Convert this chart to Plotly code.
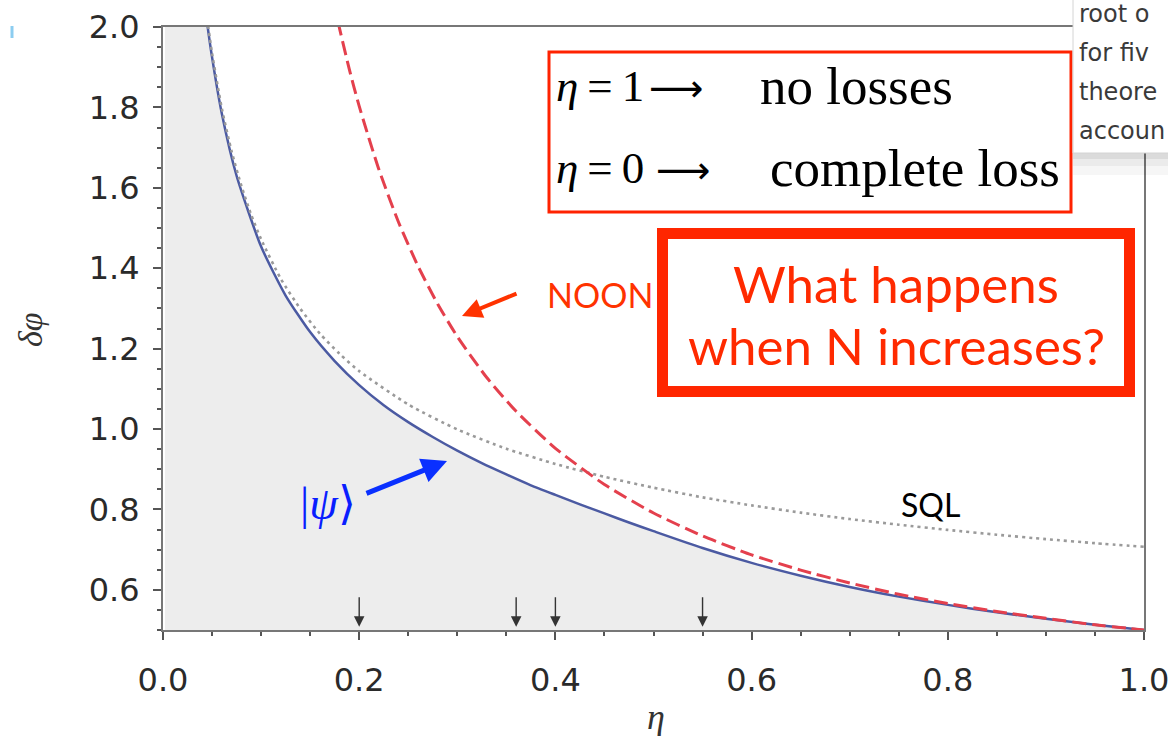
import plotly.graph_objects as go

# ---------------- data ----------------
eta_psi = [0.002, 0.01, 0.02, 0.03, 0.04, 0.045, 0.05, 0.06, 0.075, 0.1, 0.125, 0.15,
           0.175, 0.2, 0.225, 0.25, 0.275, 0.3, 0.325, 0.35, 0.375, 0.4, 0.425, 0.45,
           0.475, 0.5, 0.55, 0.6, 0.65, 0.7, 0.75, 0.8, 0.85, 0.9, 0.95, 1.0]
dphi_psi = [8.2, 3.87, 2.845, 2.39, 2.11, 2.01, 1.925, 1.784, 1.630, 1.454, 1.332, 1.241,
            1.169, 1.109, 1.059, 1.017, 0.980, 0.946, 0.915, 0.887, 0.860, 0.836, 0.8125, 0.790,
            0.7675, 0.746, 0.704, 0.667, 0.635, 0.607, 0.583, 0.5625, 0.544, 0.528, 0.513, 0.500]

eta_noon = [0.17, 0.18, 0.19, 0.2, 0.22, 0.24, 0.26, 0.28, 0.3, 0.33, 0.36, 0.4, 0.45,
            0.5, 0.55, 0.6, 0.65, 0.7, 0.75, 0.8, 0.85, 0.9, 0.95, 1.0]
dphi_noon = [2.110, 1.996, 1.894, 1.803, 1.646, 1.515, 1.405, 1.311, 1.230, 1.128, 1.044, 0.952, 0.862,
             0.791, 0.734, 0.687, 0.649, 0.617, 0.589, 0.566, 0.546, 0.529, 0.513, 0.500]

eta_sql = [0.045, 0.05, 0.06, 0.07, 0.08, 0.09, 0.1, 0.12, 0.14, 0.16, 0.18, 0.2, 0.25, 0.3,
           0.35, 0.4, 0.45, 0.5, 0.55, 0.6, 0.65, 0.7, 0.75, 0.8, 0.85, 0.9, 0.95, 1.0]
dphi_sql = [2.020, 1.935, 1.797, 1.690, 1.604, 1.532, 1.472, 1.374, 1.299, 1.237, 1.187, 1.144, 1.061, 0.999,
            0.951, 0.913, 0.881, 0.854, 0.830, 0.810, 0.792, 0.776, 0.762, 0.749, 0.737, 0.726, 0.716, 0.707]

eta_marks = [0.2, 0.36, 0.4, 0.55]

x_ticks = [0.0, 0.2, 0.4, 0.6, 0.8, 1.0]
y_ticks = [0.6, 0.8, 1.0, 1.2, 1.4, 1.6, 1.8, 2.0]
x_ticktext = ["0.0", "0.2", "0.4", "0.6", "0.8", "1.0"]
y_ticktext = ["0.6", "0.8", "1.0", "1.2", "1.4", "1.6", "1.8", "2.0"]

# ---------------- geometry helpers (pixel -> paper) ----------------
W, H = 1168, 736
L, R, T, B = 163, 1144, 27, 630


def px(x):
    return (x - L) / (R - L)


def py(y):
    return (B - y) / (B - T)


fig = go.Figure()

# grey region under the optimal-state curve
fig.add_trace(go.Scatter(x=eta_psi, y=dphi_psi, mode="lines",
                         line=dict(width=0, shape="spline", smoothing=0.6),
                         fill="tozeroy", fillcolor="#ededed",
                         hoverinfo="skip", showlegend=False))
# optimal state |psi>
fig.add_trace(go.Scatter(x=eta_psi, y=dphi_psi, mode="lines",
                         line=dict(color="#4b5aa2", width=2.5, shape="spline", smoothing=0.6),
                         showlegend=False))
# SQL
fig.add_trace(go.Scatter(x=eta_sql, y=dphi_sql, mode="lines",
                         line=dict(color="#9a9a9a", width=2.6, dash="3px,4px", shape="spline", smoothing=0.6),
                         showlegend=False))
# NOON
fig.add_trace(go.Scatter(x=eta_noon, y=dphi_noon, mode="lines",
                         line=dict(color="#e4404d", width=3, dash="14px,6px", shape="spline", smoothing=0.6),
                         showlegend=False))

axis_common = dict(showgrid=False, zeroline=False, showline=True, linecolor="#777777",
                   linewidth=2, mirror=True, ticks="outside", ticklen=8, tickwidth=1.5,
                   tickcolor="#555555", ticklabeloverflow="allow", automargin=False,
                   tickfont=dict(family="DejaVu Sans", size=32, color="#2a2a2a"))

fig.update_xaxes(range=[0, 1.0], tickvals=x_ticks, ticktext=x_ticktext,
                 minor=dict(tick0=0, dtick=0.05, ticks="outside", ticklen=4,
                            tickcolor="#555555", showgrid=False),
                 ticklabelstandoff=13, **axis_common)
fig.update_yaxes(range=[0.5, 2.0], tickvals=y_ticks, ticktext=y_ticktext,
                 minor=dict(tick0=0.5, dtick=0.05, ticks="outside", ticklen=4,
                            tickcolor="#555555", showgrid=False),
                 ticklabelstandoff=7, **axis_common)

shapes = []
# box 1 (thin red border)
shapes.append(dict(type="rect", xref="paper", yref="paper",
                   x0=px(549), x1=px(1071), y0=py(212), y1=py(52),
                   line=dict(color="#ff2200", width=3), fillcolor="white", layer="above"))
# box 2 (thick red border)
shapes.append(dict(type="rect", xref="paper", yref="paper",
                   x0=px(662.5), x1=px(1129.5), y0=py(391.5), y1=py(233.5),
                   line=dict(color="#ff2600", width=11), fillcolor="white", layer="above"))
# tooltip shadow + tooltip box (top-right corner)
for (y0, y1, a) in [(153, 159, 0.14), (159, 166, 0.08), (166, 175, 0.035)]:
    shapes.append(dict(type="rect", xref="paper", yref="paper",
                       x0=px(1073), x1=px(1170), y0=py(y1), y1=py(y0),
                       line=dict(width=0), fillcolor=f"rgba(0,0,0,{a})", layer="above"))
shapes.append(dict(type="rect", xref="paper", yref="paper",
                   x0=px(1073), x1=px(1172), y0=py(153), y1=py(-2),
                   line=dict(color="#d4d4d4", width=1), fillcolor="white", layer="above"))
# small light-blue mark at the top-left
shapes.append(dict(type="line", xref="paper", yref="paper",
                   x0=px(12), x1=px(12), y0=py(38), y1=py(26),
                   line=dict(color="#8ccdf0", width=3), layer="above"))
fig.update_layout(shapes=shapes)

ann = []
serif = "Liberation Serif"
sans = "Lato"
ts = "\u2009"
# box 1 text (pieces placed separately)
for lhs, rhs, yc, xa, xr in [(f"<i>η</i>{ts}={ts}1", "no losses", 86, 647, 758),
                             (f"<i>η</i>{ts}={ts}0", "complete loss", 168, 654, 768)]:
    ann.append(dict(xref="paper", yref="paper", x=px(554), y=py(yc), xanchor="left", yanchor="middle",
                    text=lhs, showarrow=False, font=dict(family=serif, size=45, color="black")))
    ann.append(dict(xref="paper", yref="paper", x=px(xa), y=py(yc + 2),
                    xanchor="left", yanchor="middle",
                    text="⟶", showarrow=False, font=dict(family="DejaVu Sans", size=38, color="black")))
    ann.append(dict(xref="paper", yref="paper", x=px(xr), y=py(yc), xanchor="left", yanchor="middle",
                    text=rhs, showarrow=False, font=dict(family=serif, size=53, color="black")))
# box 2 text
ann.append(dict(xref="paper", yref="paper", x=px(896), y=py(283), xanchor="center", yanchor="middle",
                text="What happens", showarrow=False,
                font=dict(family=sans, size=51, color="#ff2a00")))
ann.append(dict(xref="paper", yref="paper", x=px(896), y=py(346), xanchor="center", yanchor="middle",
                text="when N increases?", showarrow=False,
                font=dict(family=sans, size=51, color="#ff2a00")))
# labels
ann.append(dict(xref="paper", yref="paper", x=px(600), y=py(294), xanchor="center", yanchor="middle",
                text="NOON", showarrow=False, font=dict(family=sans, size=34, color="#ff3300")))
ann.append(dict(xref="paper", yref="paper", x=px(930), y=py(505), xanchor="center", yanchor="middle",
                text="SQL", showarrow=False, font=dict(family=sans, size=32, color="black")))
ann.append(dict(xref="paper", yref="paper", x=px(328), y=py(503), xanchor="center", yanchor="middle",
                text="|<i>ψ</i>⟩", showarrow=False, font=dict(family=serif, size=46, color="#0a1eff")))
# arrows to curves
ann.append(dict(xref="paper", yref="paper", x=px(462), y=py(316), ax=56, ay=-23,
                text="", showarrow=True, arrowhead=2, arrowsize=1.0, arrowwidth=4,
                arrowcolor="#ff3300"))
ann.append(dict(xref="paper", yref="paper", x=px(447), y=py(461), ax=-82, ay=33,
                text="", showarrow=True, arrowhead=2, arrowsize=1.0, arrowwidth=5,
                arrowcolor="#0a30ff"))
# small markers on the axis
for e in eta_marks:
    ann.append(dict(xref="x", yref="y", x=e, y=0.508, ax=0, ay=-31, text="",
                    showarrow=True, arrowhead=2, arrowsize=1.5, arrowwidth=1.4,
                    arrowcolor="#333333"))
# axis titles
ann.append(dict(xref="paper", yref="paper", x=px(30), y=py(330), xanchor="center", yanchor="middle",
                text="<i>δφ</i>", textangle=-90, showarrow=False,
                font=dict(family=serif, size=34, color="#333333")))
ann.append(dict(xref="paper", yref="paper", x=px(656), y=py(717), xanchor="center", yanchor="middle",
                text="<i>η</i>", showarrow=False,
                font=dict(family=serif, size=36, color="#333333")))
# tooltip text (partly hidden by the right edge in the reference)
for txt, yc in [("root o", 14), ("for fiv", 53), ("theore", 92), ("accoun", 131)]:
    ann.append(dict(xref="paper", yref="paper", x=px(1077), y=py(yc), xanchor="left", yanchor="middle",
                    text=txt, showarrow=False,
                    font=dict(family="DejaVu Sans", size=24, color="#3a3a3a")))

fig.update_layout(annotations=ann, width=W, height=H,
                  margin=dict(l=L, r=W - R, t=T, b=H - B),
                  paper_bgcolor="white", plot_bgcolor="white", showlegend=False)

fig.write_html("out.html")
